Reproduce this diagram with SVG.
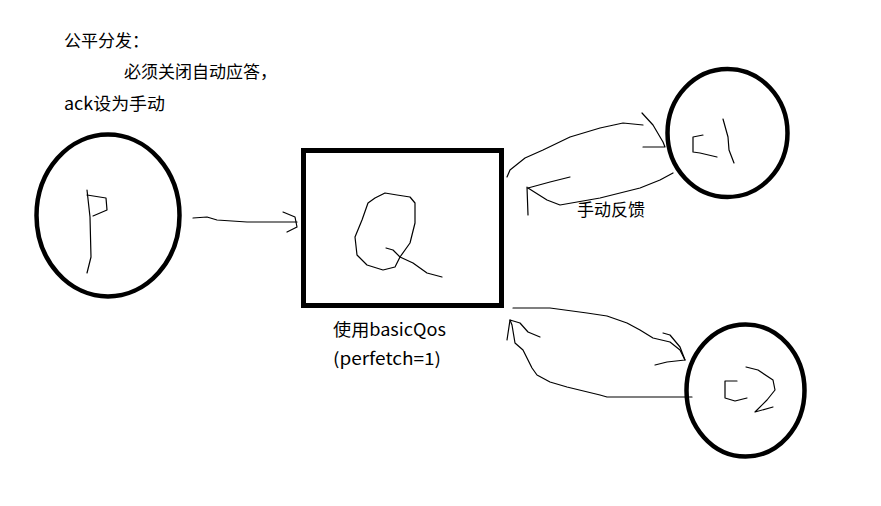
<svg xmlns="http://www.w3.org/2000/svg" width="881" height="506" viewBox="0 0 881 506">
<style>
.node{fill:none;stroke:#000;stroke-width:4.5}
.ink{fill:none;stroke:#000;stroke-width:1.2;stroke-linejoin:round;stroke-linecap:round}
text{font-family:"Noto Sans CJK SC","Noto Sans",sans-serif;font-size:17px;fill:#000}
</style>
<rect x="0" y="0" width="881" height="506" fill="#fff"/>
<g id="notes">
<text x="64" y="47">公平分发：</text>
<text x="124" y="78">必须关闭自动应答，</text>
<text x="64" y="110" textLength="101" lengthAdjust="spacingAndGlyphs">ack设为手动</text>
</g>
<g id="P">
<ellipse class="node" cx="108" cy="215.5" rx="71.5" ry="81"/>
<path class="ink" d="M87,190 L90,217 L91,257 L87,273"/>
<path class="ink" d="M87,195 L106,198 L107,210 L93,216"/>
</g>
<g id="Q">
<rect class="node" x="303.5" y="150.5" width="198" height="155" style="stroke-width:5"/>
<path class="ink" d="M385,193 L375,198 L368,203 L362,220 L355,237 L357,255 L367,265 L383,270 L395,267 L400,257 L410,243 L415,223 L415,203 L410,197 L397,195 Z"/>
<path class="ink" d="M386,248 L393,250 L400,257 L413,263 L427,273 L442,277"/>
<text x="333" y="336" textLength="113" lengthAdjust="spacingAndGlyphs">使用basicQos</text>
<text x="333" y="365" textLength="108" lengthAdjust="spacingAndGlyphs">(perfetch=1)</text>
</g>
<g id="c1">
<ellipse class="node" cx="727.5" cy="133" rx="60" ry="64"/>
<path class="ink" d="M703,135 L693,137 L693,152 L700,153 L717,157"/>
<path class="ink" d="M723,119 L728,137 L729,150 L734,163"/>
</g>
<g id="c2">
<ellipse class="node" cx="745.5" cy="390.5" rx="59" ry="66"/>
<path class="ink" d="M737,381 L725,381 L725,398 L735,401 L747,398"/>
<path class="ink" d="M746,367 L758,370 L773,380 L775,390 L767,400 L755,412 L773,407"/>
</g>
<g id="connectors">
<path class="ink" d="M193,218 L207,217 L217,220 L247,222 L297,222"/>
<path class="ink" d="M283,212 L295,217 L297,227 L287,232"/>
<path class="ink" d="M507,177 L510,170 L525,158 L543,150 L570,137 L600,128 L623,123 L643,125"/>
<path class="ink" d="M642,113 L653,125 L663,142 L665,147 M643,147 L665,147"/>
<path class="ink" d="M673,173 L660,180 L640,188 L600,198 L560,205 L547,200 L528,188"/>
<path class="ink" d="M527,187 L528,215 M528,188 L550,182 L570,177"/>
<text x="577" y="216">手动反馈</text>
<path class="ink" d="M513,308 L550,308 L587,313 L607,316 L627,323 L640,330 L653,338 L670,342 L680,350 L685,360"/>
<path class="ink" d="M663,333 L670,335 L680,347 L685,360 M655,365 L667,362 L685,360"/>
<path class="ink" d="M692,397 L607,397 L600,395 L567,387 L550,382 L537,375 L532,368 L523,350 L515,343 L512,325 L510,320"/>
<path class="ink" d="M510,320 L507,340 M510,320 L520,323 L528,332 L540,337"/>
</g>
</svg>
